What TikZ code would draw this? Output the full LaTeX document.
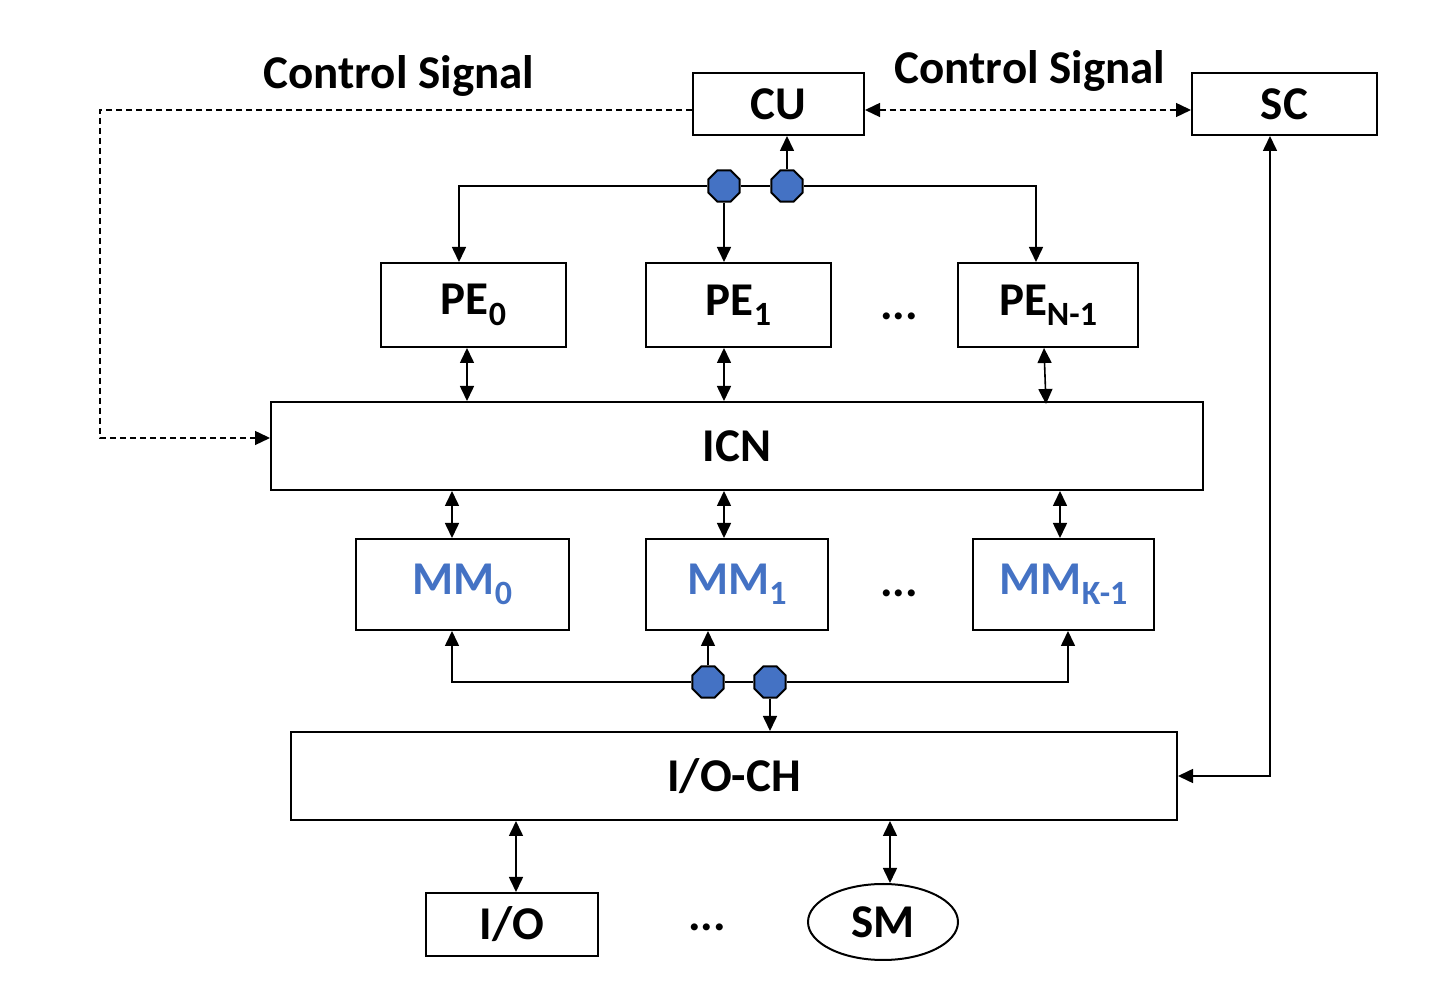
\documentclass[tikz,border=0pt]{standalone}
\usepackage{fontspec}
\setmainfont{Carlito}
\usepackage{tikz}
\usetikzlibrary{arrows.meta, shapes.geometric}
\tikzset{>={Triangle[length=7.5pt,width=7pt]}}
\definecolor{mmblue}{HTML}{4472C4}
\newcommand{\lowsub}[1]{\raisebox{-0.22em}{\fontsize{17}{17}\selectfont #1}}

\begin{document}
\begin{tikzpicture}[x=0.5pt,y=-0.5pt,
		lbl/.style={inner sep=0pt, font=\fontsize{23.5}{28}\selectfont\bfseries},
		box/.style={lbl, draw, line width=1pt},
		tap/.style={draw, line width=1pt, fill=mmblue, regular polygon, regular polygon sides=8, inner sep=0pt, minimum size=17pt},
		conn/.style={line width=0.8pt},
		ctrl/.style={line width=0.7pt, dash pattern=on 3pt off 2pt}]
		\useasboundingbox (0,0) rectangle (1442,1004);

		\node[box, minimum width=85.5pt, minimum height=31pt] (CU) at (778.5,104) {CU};
		\node[box, minimum width=92.5pt, minimum height=31pt] (SC) at (1284.5,104) {SC};
		\node[lbl] (csl) at (399,76) {Control Signal};
		\node[lbl] (csr) at (1030,71) {Control Signal};

		\node[tap] (ot1) at (724,186) {};
		\node[tap] (ot2) at (787,186) {};

		\node[box, minimum width=92.5pt, minimum height=42pt] (PE0) at (473.5,305) {PE\lowsub{0}};
		\node[box, minimum width=92.5pt, minimum height=42pt] (PE1) at (738.5,305) {PE\lowsub{1}};
		\node[box, minimum width=90pt, minimum height=42pt] (PEN) at (1048,305) {PE\lowsub{N-1}};
		\node[lbl] (dpe) at (899,316) {...};

		\node[box, minimum width=466pt, minimum height=44pt] (ICN) at (737,446) {ICN};

		\node[box, text=mmblue, minimum width=106.5pt, minimum height=45.5pt] (MM0) at (462.5,584.5) {MM\lowsub{0}};
		\node[box, text=mmblue, minimum width=91pt, minimum height=45.5pt] (MM1) at (737,584.5) {MM\lowsub{1}};
		\node[box, text=mmblue, minimum width=90.5pt, minimum height=45.5pt] (MMK) at (1063.5,584.5) {MM\lowsub{K-1}};
		\node[lbl] (dmm) at (899,593) {...};

		\node[tap] (ob1) at (708,682) {};
		\node[tap] (ob2) at (770,682) {};

		\node[box, minimum width=443pt, minimum height=44pt] (IOCH) at (734,776) {I/O-CH};

		\node[box, minimum width=86pt, minimum height=31.5pt] (IO) at (512,924.5) {I/O};
		\node[lbl, draw, line width=1pt, ellipse, minimum width=75pt, minimum height=38pt] (SM) at (883,922) {SM};
		\node[lbl] (dio) at (707,927) {...};

		% control lines
		\draw[<->, ctrl] ([yshift=-3pt]CU.east) -- ([yshift=-3pt]SC.west);
		\coordinate (dl) at (100,438);
		\draw[->, ctrl] ([yshift=-3pt]CU.west) -| (dl) -- (dl -| ICN.west);
		\draw[<->, conn] ([xshift=-7.25pt]SC.south) |- (IOCH.east);

		% PE bus
		\draw[->, conn] (ot1.west) -| ([xshift=-7.25pt]PE0.north);
		\draw[conn] (ot1.east) -- (ot2.west);
		\draw[->, conn] (ot2.east) -| ([xshift=-6pt]PEN.north);
		\draw[->, conn] (ot1.south) -- (ot1 |- PE1.north);
		\draw[->, conn] (ot2.north) -- (ot2 |- CU.south);

		\draw[<->, conn] ([xshift=-3.25pt]PE0.south) -- ([xshift=-3.25pt]PE0.south |- ICN.north);
		\draw[<->, conn] (ot1 |- PE1.south) -- (ot1 |- ICN.north);
		\draw[<->, conn] ([xshift=-2pt]PEN.south) -- ([xshift=-1pt,yshift=-1.5pt]PEN.south |- ICN.north);

		\draw[<->, conn] ([xshift=-5.25pt]MM0.north |- ICN.south) -- ([xshift=-5.25pt]MM0.north);
		\draw[<->, conn] (ot1 |- ICN.south) -- (ot1 |- MM1.north);
		\draw[<->, conn] ([xshift=-1.75pt]MMK.north |- ICN.south) -- ([xshift=-1.75pt]MMK.north);

		% MM bus
		\draw[->, conn] (ob1.west) -| ([xshift=-5.25pt]MM0.south);
		\draw[conn] (ob1.east) -- (ob2.west);
		\draw[->, conn] (ob2.east) -| ([xshift=2.25pt]MMK.south);
		\draw[->, conn] (ob1.north) -- (ob1 |- MM1.south);
		\draw[->, conn] (ob2.south) -- (ob2 |- IOCH.north);

		\draw[<->, conn] ([xshift=2pt]IO.north |- IOCH.south) -- ([xshift=2pt]IO.north);
		\draw[<->, conn] ([xshift=3.5pt]SM.north |- IOCH.south) -- ([xshift=3.5pt]SM.north);
	\end{tikzpicture}
\end{document}
